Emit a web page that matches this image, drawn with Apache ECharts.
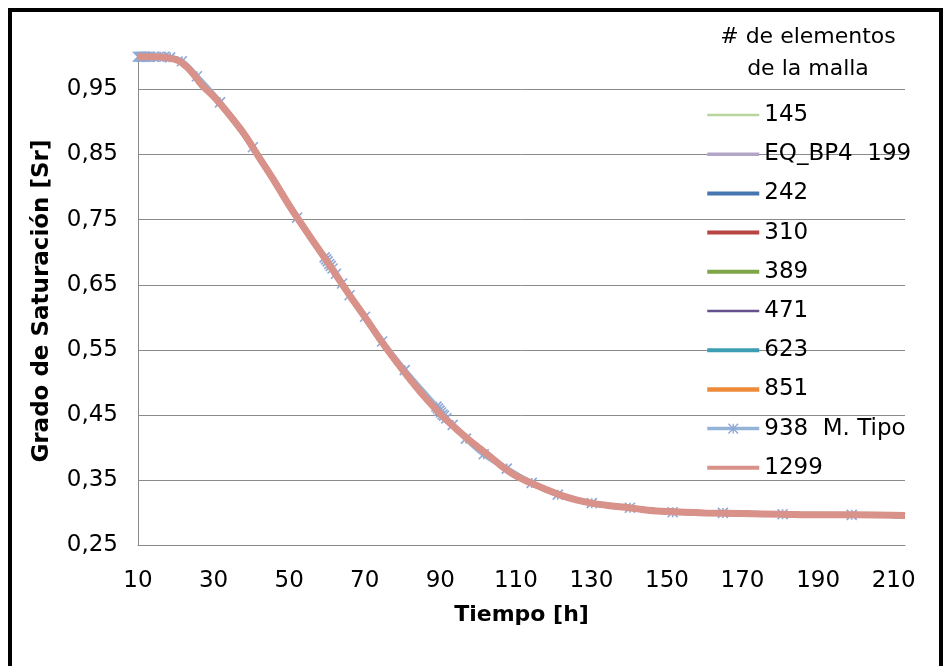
<!DOCTYPE html>
<html><head><meta charset="utf-8">
<script src="https://cdn.jsdelivr.net/npm/echarts@6/dist/echarts.min.js"></script>
<style>html,body{margin:0;padding:0;background:#fff}#c{width:949px;height:666px}</style>
</head><body><div id="c"></div>
<script>
// ---- data ----
const timeH = [10, 14, 18, 21, 24, 27, 30, 34, 38, 42, 46, 50, 54, 58, 62, 66, 70, 74, 78, 82, 86, 90, 94, 98, 102, 106, 110, 114, 118, 122, 126, 130, 135, 140, 145, 150, 160, 170, 180, 190, 200, 213];
const satCurve = [1.0, 1.0, 0.998, 0.993, 0.978, 0.956, 0.939, 0.912, 0.882, 0.846, 0.81, 0.772, 0.737, 0.703, 0.669, 0.634, 0.601, 0.567, 0.535, 0.505, 0.477, 0.452, 0.43, 0.41, 0.392, 0.373, 0.357, 0.346, 0.336, 0.327, 0.32, 0.315, 0.311, 0.308, 0.304, 0.302, 0.300, 0.299, 0.298, 0.297, 0.297, 0.296];
const tipoTime = [10, 10.4, 10.8, 11.2, 11.6, 12, 12.5, 13, 14, 15.5, 17, 18.5, 21.6, 25.6, 31.7, 40.4, 52.1, 59.4, 59.8, 60.2, 60.6, 61.0, 61.5, 62.4, 64, 66, 70.1, 74.6, 80.6, 89, 89.4, 89.8, 90.2, 90.6, 91, 91.6, 93.3, 96.8, 101.5, 107.6, 114.2, 121.1, 130.1, 140.2, 151.5, 164.8, 180.6, 198.9];
const tipoSat = [1.0, 1.0, 1.0, 1.0, 1.0, 1.0, 1.0, 1.0, 1.0, 1.0, 1.0, 0.999, 0.993, 0.97, 0.93, 0.861, 0.753, 0.692, 0.689, 0.686, 0.682, 0.679, 0.675, 0.667, 0.652, 0.634, 0.601, 0.563, 0.519, 0.463, 0.46, 0.457, 0.454, 0.451, 0.449, 0.445, 0.435, 0.414, 0.39, 0.368, 0.346, 0.328, 0.315, 0.308, 0.301, 0.3, 0.298, 0.297];
const meshNames = ['145', 'EQ_BP4  199', '242', '310', '389', '471', '623', '851', '938  M. Tipo', '1299'];
const legendTitle = ['# de elementos', 'de la malla'];
const xAxisTitle = 'Tiempo [h]';
const yAxisTitle = 'Grado de Saturación [Sr]';

// ---- styles ----
const meshColors = ['#B9D59C', '#B2A5C8', '#4676B0', '#B84542', '#7EA548', '#63508C', '#3C9DB3', '#EE8A3A', '#95B3D7', '#D8928A'];
const legendWidths = [2.4, 3.5, 4, 4, 4, 2.6, 4, 4.5, 3.5, 4];

function pairs(xs, ys) { return xs.map((x, i) => [x, ys[i]]); }

const series = meshNames.map((name, i) => {
  const isTipo = name.indexOf('938') === 0;
  const isTop = i === meshNames.length - 1;
  return {
    name: name,
    type: 'line',
    data: isTipo ? pairs(tipoTime, tipoSat) : pairs(timeH, satCurve),
    smooth: 0.35,
    clip: false,
    showSymbol: isTipo,
    symbol: isTipo ? 'path://M0,0L10,10M10,0L0,10M5,0L5,10' : 'none',
    symbolSize: 10,
    lineStyle: { color: meshColors[i], width: isTop ? 7 : 5.5 },
    itemStyle: { color: meshColors[i], borderColor: '#8EA9D6', borderWidth: 1.6 },
    emphasis: { disabled: true },
    animation: false,
    z: 2 + i
  };
});

const chart = echarts.init(document.getElementById('c'), null, { renderer: 'canvas' });
chart.setOption({
  animation: false,
  backgroundColor: '#fff',
  grid: { left: 138, right: 44, top: 56.7, bottom: 120.5, containLabel: false },
  xAxis: {
    type: 'value', min: 10, max: 213, interval: 20,
    name: xAxisTitle, nameLocation: 'middle', nameGap: 59,
    nameTextStyle: { fontFamily: 'DejaVu Sans', fontWeight: 'bold', fontSize: 22, color: '#000' },
    axisLine: { show: true, lineStyle: { color: '#8A8A8A', width: 1 } },
    axisTick: { show: false },
    splitLine: { show: false },
    axisLabel: { showMaxLabel: false, margin: 24, fontFamily: 'DejaVu Sans', fontSize: 23, color: '#000' }
  },
  yAxis: {
    type: 'value', min: 0.25, max: 1.0, interval: 0.1,
    name: yAxisTitle, nameLocation: 'middle', nameGap: 84, nameRotate: 90,
    nameTextStyle: { fontFamily: 'DejaVu Sans', fontWeight: 'bold', fontSize: 23, color: '#000' },
    axisLine: { show: true, lineStyle: { color: '#8A8A8A', width: 1 } },
    axisTick: { show: false },
    splitLine: { show: true, showMaxLine: false, lineStyle: { color: '#8A8A8A', width: 1 } },
    axisLabel: {
      showMaxLabel: false, margin: 20, fontFamily: 'DejaVu Sans', fontSize: 23, color: '#000',
      formatter: v => v.toFixed(2).replace('.', ',')
    }
  },
  legend: {
    orient: 'vertical', left: 705, top: 103, padding: 0,
    itemWidth: 52, itemHeight: 12, itemGap: 15.2,
    selectedMode: false,
    textStyle: { fontFamily: 'DejaVu Sans', fontSize: 23, color: '#000', lineHeight: 24 },
    data: meshNames.map((n, i) => {
      const isTipo = n.indexOf('938') === 0;
      return {
        name: n,
        lineStyle: { width: legendWidths[i] },
        itemStyle: isTipo ? { borderColor: '#8EA9D6', borderWidth: 1.4 } : { opacity: 0, color: 'transparent', borderWidth: 0 }
      };
    })
  },
  graphic: [
    { type: 'polyline', shape: { points: [[10, 666], [10, 10], [941, 10], [941, 666]] }, style: { stroke: '#000', lineWidth: 4, fill: 'none' }, silent: true },
    { type: 'text', style: { text: legendTitle[0], x: 808, y: 37, align: 'center', verticalAlign: 'middle', font: '22px "DejaVu Sans"', fill: '#000' }, silent: true },
    { type: 'text', style: { text: legendTitle[1], x: 808, y: 69, align: 'center', verticalAlign: 'middle', font: '22px "DejaVu Sans"', fill: '#000' }, silent: true }
  ],
  series: series
});
</script></body></html>
